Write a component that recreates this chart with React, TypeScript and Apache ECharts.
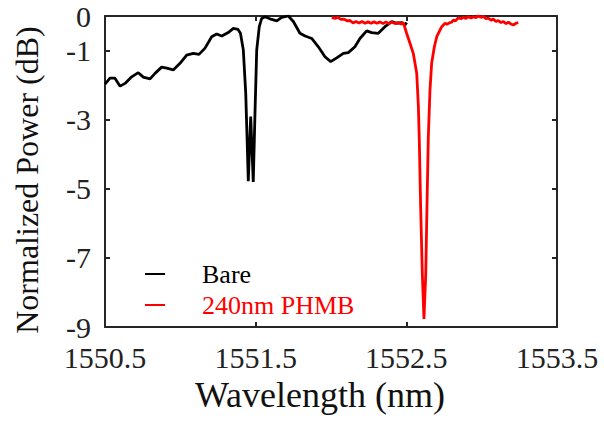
import React, { useEffect, useRef } from 'react';
import * as echarts from 'echarts';

// Bare resonator spectrum
const bareWavelength = [
  1550.5, 1550.533, 1550.566, 1550.6, 1550.633, 1550.677, 1550.721, 1550.754, 1550.799, 1550.832,
  1550.876, 1550.91, 1550.953, 1550.998, 1551.042, 1551.086, 1551.124, 1551.164, 1551.208, 1551.241,
  1551.275, 1551.318, 1551.352, 1551.383, 1551.399, 1551.418, 1551.434, 1551.444, 1551.451, 1551.467,
  1551.484, 1551.496, 1551.507, 1551.524, 1551.54, 1551.562, 1551.606, 1551.64, 1551.673, 1551.717,
  1551.75, 1551.794, 1551.828, 1551.872, 1551.916, 1551.96, 1551.998, 1552.038, 1552.082, 1552.115,
  1552.159, 1552.192, 1552.237, 1552.27, 1552.314, 1552.358, 1552.403, 1552.436, 1552.469, 1552.491,
  1552.502,
];
const barePower = [
  -1.97, -1.8, -1.8, -2.03, -1.95, -1.76, -1.64, -1.77, -1.82, -1.66,
  -1.48, -1.51, -1.56, -1.37, -1.13, -1.08, -1.11, -0.93, -0.6, -0.52,
  -0.58, -0.48, -0.36, -0.39, -0.5, -0.98, -2.23, -3.68, -4.78, -2.91,
  -4.8, -2.72, -0.98, -0.31, -0.07, -0.02, -0.1, -0.14, -0.04, 0.0,
  -0.16, -0.5, -0.58, -0.65, -0.89, -1.18, -1.32, -1.21, -1.08, -1.06,
  -0.89, -0.65, -0.43, -0.48, -0.5, -0.31, -0.16, -0.21, -0.19, -0.26,
  -0.19,
];

// 240nm PHMB coated spectrum
const phmbWavelength = [
  1552.005, 1552.027, 1552.046, 1552.066, 1552.086, 1552.106, 1552.126, 1552.146, 1552.166, 1552.186,
  1552.206, 1552.226, 1552.246, 1552.265, 1552.285, 1552.305, 1552.325, 1552.345, 1552.365, 1552.385,
  1552.405, 1552.425, 1552.445, 1552.465, 1552.48, 1552.502, 1552.524, 1552.546, 1552.569, 1552.58,
  1552.586, 1552.595, 1552.606, 1552.617, 1552.629, 1552.637, 1552.646, 1552.657, 1552.668, 1552.686,
  1552.702, 1552.735, 1552.757, 1552.77, 1552.785, 1552.8, 1552.812, 1552.826, 1552.845, 1552.863,
  1552.878, 1552.896, 1552.911, 1552.929, 1552.944, 1552.962, 1552.978, 1552.995, 1553.011, 1553.029,
  1553.044, 1553.062, 1553.077, 1553.095, 1553.11, 1553.128, 1553.144, 1553.162, 1553.177, 1553.195,
  1553.21, 1553.228, 1553.243,
];
const phmbPower = [
  -0.04, -0.07, -0.04, -0.1, -0.09, -0.14, -0.13, -0.2, -0.16, -0.2,
  -0.16, -0.21, -0.17, -0.21, -0.17, -0.21, -0.17, -0.22, -0.17, -0.22,
  -0.18, -0.22, -0.19, -0.23, -0.19, -0.5, -0.79, -1.08, -1.66, -2.62,
  -3.59, -5.52, -7.45, -8.77, -7.45, -5.52, -3.49, -2.14, -1.37, -0.89,
  -0.6, -0.31, -0.21, -0.24, -0.2, -0.18, -0.12, -0.14, -0.05, -0.08,
  -0.04, -0.07, -0.02, -0.06, -0.02, -0.05, 0.0, -0.04, -0.01, -0.08,
  -0.06, -0.12, -0.09, -0.16, -0.13, -0.19, -0.16, -0.22, -0.18, -0.23,
  -0.26, -0.21, -0.19,
];

const xMin = 1550.5;
const xMax = 1553.5;
const xStep = 1;
const yMin = -9;
const yMax = 0;
const yStep = 2;

const seriesNames = ['Bare', '240nm PHMB'];
const seriesColors = ['#000000', '#ff0000'];

const FONT = '"Liberation Serif", "Times New Roman", serif';
const AXIS_COLOR = '#262626';

export default function App() {
  const ref = useRef<HTMLDivElement>(null);

  useEffect(() => {
    if (!ref.current) return;
    const chart = echarts.init(ref.current, undefined, { renderer: 'svg' });

    const bareData = bareWavelength.map((x, i) => [x, barePower[i]]);
    const phmbData = phmbWavelength.map((x, i) => [x, phmbPower[i]]);

    const baseX = {
      type: 'value' as const,
      min: xMin,
      max: xMax,
      interval: xStep,
      splitLine: { show: false },
      axisLine: { show: true, onZero: false, lineStyle: { color: AXIS_COLOR, width: 2 } },
      axisTick: { show: true, inside: true, length: 5, lineStyle: { color: AXIS_COLOR, width: 2 } },
    };
    const baseY = {
      type: 'value' as const,
      min: yMin,
      max: yMax,
      interval: yStep,
      splitLine: { show: false },
      axisLine: { show: true, onZero: false, lineStyle: { color: AXIS_COLOR, width: 2 } },
      axisTick: { show: true, inside: true, length: 5, lineStyle: { color: AXIS_COLOR, width: 2 } },
    };

    chart.setOption({
      animation: false,
      backgroundColor: '#ffffff',
      grid: { left: 105, top: 16, right: 47, bottom: 94, containLabel: false },
      legend: {
        show: true,
        orient: 'vertical',
        left: 140,
        top: 256,
        itemGap: 5,
        itemWidth: 20,
        itemHeight: 2,
        icon: 'rect',
        textStyle: { fontFamily: FONT, fontSize: 26, lineHeight: 26, padding: [0, 0, 0, 32] },
        data: [
          { name: seriesNames[0], textStyle: { color: seriesColors[0] } },
          { name: seriesNames[1], textStyle: { color: seriesColors[1] } },
        ],
      },
      xAxis: [
        {
          ...baseX,
          position: 'bottom',
          name: 'Wavelength (nm)',
          nameLocation: 'middle',
          nameGap: 50,
          nameTextStyle: { fontFamily: FONT, fontSize: 36, color: '#111', padding: [0, 22, 0, 0] },
          axisLabel: {
            show: true,
            fontFamily: FONT,
            fontSize: 30,
            color: '#222',
            margin: 15,
            formatter: (v: number) => v.toFixed(1),
          },
        },
        {
          ...baseX,
          position: 'top',
          axisLabel: { show: false },
        },
      ],
      yAxis: [
        {
          ...baseY,
          position: 'left',
          name: 'Normalized Power (dB)',
          nameLocation: 'middle',
          nameGap: 62,
          nameTextStyle: { fontFamily: FONT, fontSize: 32, color: '#111', padding: [0, 17, 0, 0] },
          axisLabel: {
            show: true,
            fontFamily: FONT,
            fontSize: 30,
            color: '#222',
            margin: 14,
            formatter: (v: number) => String(v),
          },
        },
        {
          ...baseY,
          position: 'right',
          axisLabel: { show: false },
        },
      ],
      series: [
        {
          name: seriesNames[0],
          type: 'line',
          data: bareData,
          showSymbol: false,
          symbol: 'none',
          smooth: false,
          clip: false,
          color: seriesColors[0],
          lineStyle: { color: seriesColors[0], width: 2.8 },
        },
        {
          name: seriesNames[1],
          type: 'line',
          data: phmbData,
          showSymbol: false,
          symbol: 'none',
          smooth: false,
          clip: false,
          color: seriesColors[1],
          lineStyle: { color: seriesColors[1], width: 2.8 },
        },
      ],
    });

    return () => chart.dispose();
  }, []);

  return (
    <div
      ref={ref}
      style={{ position: 'fixed', left: 0, top: 0, width: 604, height: 421, background: '#fff' }}
    />
  );
}
